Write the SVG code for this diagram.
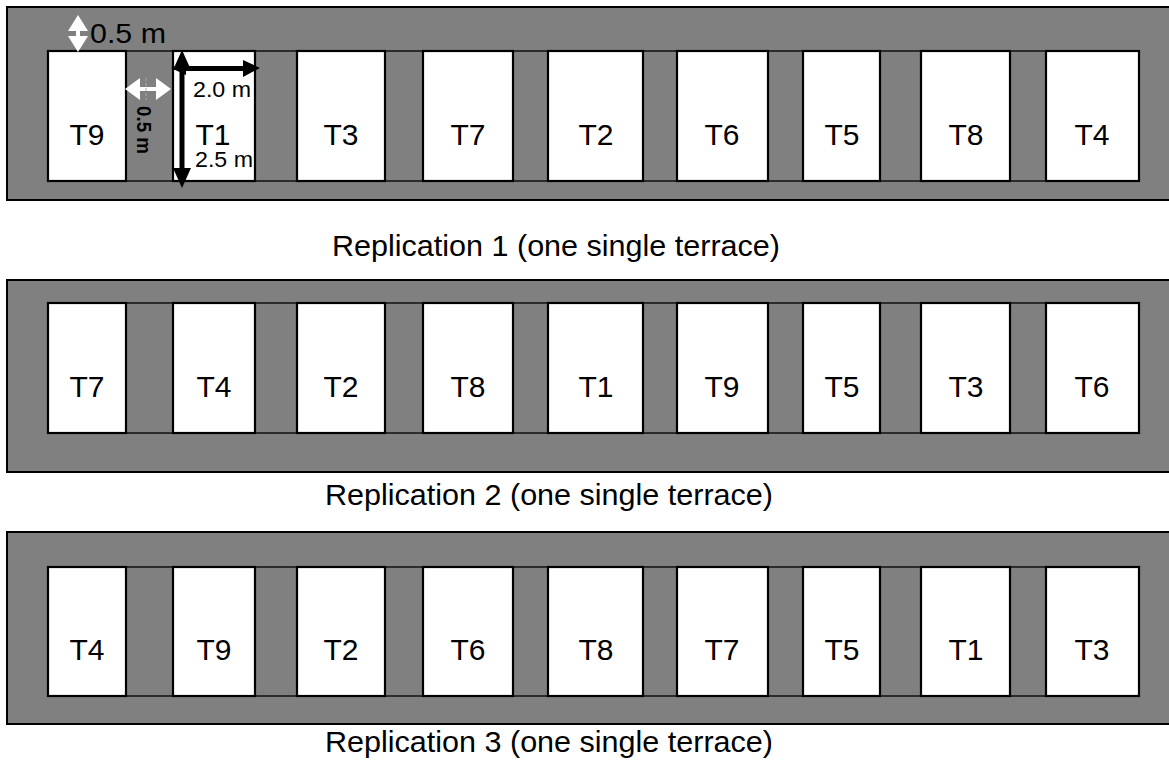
<svg xmlns="http://www.w3.org/2000/svg" width="1169" height="769" viewBox="0 0 1169 769">
<style>
.terrace{fill:#808080;stroke:#000;stroke-width:2}
.gap{fill:#808080;stroke:#111;stroke-width:1.5}
.plot{fill:#fff;stroke:#000;stroke-width:2.2}
.lab{font-family:"Liberation Sans",Arial,sans-serif;font-size:30px;fill:#000;text-anchor:middle}
.cap{font-family:"Liberation Sans",Arial,sans-serif;font-size:30px;fill:#000;text-anchor:middle}
.dim{font-family:"Liberation Sans",Arial,sans-serif;font-size:22px;fill:#000}
</style>
<rect width="1169" height="769" fill="#fff"/>
<!-- Replication 1 -->
<g id="rep1">
<rect class="terrace" x="7" y="7" width="1170" height="193"/>
<rect class="gap" x="126" y="51" width="47" height="130"/>
<rect class="gap" x="255" y="51" width="42" height="130"/>
<rect class="gap" x="385" y="51" width="38" height="130"/>
<rect class="gap" x="513" y="51" width="35" height="130"/>
<rect class="gap" x="643" y="51" width="34" height="130"/>
<rect class="gap" x="768" y="51" width="35" height="130"/>
<rect class="gap" x="880" y="51" width="41" height="130"/>
<rect class="gap" x="1010" y="51" width="36" height="130"/>
<g id="r1-T9"><rect class="plot" x="48" y="51" width="78" height="130"/><text class="lab" x="87" y="145">T9</text></g>
<g id="r1-T1"><rect class="plot" x="173" y="51" width="82" height="130"/><text class="lab" x="213" y="145">T1</text></g>
<g id="r1-T3"><rect class="plot" x="297" y="51" width="88" height="130"/><text class="lab" x="341" y="145">T3</text></g>
<g id="r1-T7"><rect class="plot" x="423" y="51" width="90" height="130"/><text class="lab" x="468" y="145">T7</text></g>
<g id="r1-T2"><rect class="plot" x="548" y="51" width="95" height="130"/><text class="lab" x="596" y="145">T2</text></g>
<g id="r1-T6"><rect class="plot" x="677" y="51" width="91" height="130"/><text class="lab" x="722" y="145">T6</text></g>
<g id="r1-T5"><rect class="plot" x="803" y="51" width="77" height="130"/><text class="lab" x="842" y="145">T5</text></g>
<g id="r1-T8"><rect class="plot" x="921" y="51" width="89" height="130"/><text class="lab" x="966" y="145">T8</text></g>
<g id="r1-T4"><rect class="plot" x="1046" y="51" width="93" height="130"/><text class="lab" x="1092" y="145">T4</text></g>
<text class="cap" x="556" y="256" textLength="448" lengthAdjust="spacingAndGlyphs">Replication 1 (one single terrace)</text>
</g>
<!-- Replication 2 -->
<g id="rep2">
<rect class="terrace" x="7" y="280" width="1170" height="192"/>
<rect class="gap" x="126" y="303" width="47" height="130"/>
<rect class="gap" x="255" y="303" width="42" height="130"/>
<rect class="gap" x="385" y="303" width="38" height="130"/>
<rect class="gap" x="513" y="303" width="35" height="130"/>
<rect class="gap" x="643" y="303" width="34" height="130"/>
<rect class="gap" x="768" y="303" width="35" height="130"/>
<rect class="gap" x="880" y="303" width="41" height="130"/>
<rect class="gap" x="1010" y="303" width="36" height="130"/>
<g id="r2-T7"><rect class="plot" x="48" y="303" width="78" height="130"/><text class="lab" x="87" y="397">T7</text></g>
<g id="r2-T4"><rect class="plot" x="173" y="303" width="82" height="130"/><text class="lab" x="214" y="397">T4</text></g>
<g id="r2-T2"><rect class="plot" x="297" y="303" width="88" height="130"/><text class="lab" x="341" y="397">T2</text></g>
<g id="r2-T8"><rect class="plot" x="423" y="303" width="90" height="130"/><text class="lab" x="468" y="397">T8</text></g>
<g id="r2-T1"><rect class="plot" x="548" y="303" width="95" height="130"/><text class="lab" x="596" y="397">T1</text></g>
<g id="r2-T9"><rect class="plot" x="677" y="303" width="91" height="130"/><text class="lab" x="722" y="397">T9</text></g>
<g id="r2-T5"><rect class="plot" x="803" y="303" width="77" height="130"/><text class="lab" x="842" y="397">T5</text></g>
<g id="r2-T3"><rect class="plot" x="921" y="303" width="89" height="130"/><text class="lab" x="966" y="397">T3</text></g>
<g id="r2-T6"><rect class="plot" x="1046" y="303" width="93" height="130"/><text class="lab" x="1092" y="397">T6</text></g>
<text class="cap" x="549" y="505" textLength="448" lengthAdjust="spacingAndGlyphs">Replication 2 (one single terrace)</text>
</g>
<!-- Replication 3 -->
<g id="rep3">
<rect class="terrace" x="7" y="532" width="1170" height="192"/>
<rect class="gap" x="126" y="567" width="47" height="129"/>
<rect class="gap" x="255" y="567" width="42" height="129"/>
<rect class="gap" x="385" y="567" width="38" height="129"/>
<rect class="gap" x="513" y="567" width="35" height="129"/>
<rect class="gap" x="643" y="567" width="34" height="129"/>
<rect class="gap" x="768" y="567" width="35" height="129"/>
<rect class="gap" x="880" y="567" width="41" height="129"/>
<rect class="gap" x="1010" y="567" width="36" height="129"/>
<g id="r3-T4"><rect class="plot" x="48" y="567" width="78" height="129"/><text class="lab" x="87" y="660">T4</text></g>
<g id="r3-T9"><rect class="plot" x="173" y="567" width="82" height="129"/><text class="lab" x="214" y="660">T9</text></g>
<g id="r3-T2"><rect class="plot" x="297" y="567" width="88" height="129"/><text class="lab" x="341" y="660">T2</text></g>
<g id="r3-T6"><rect class="plot" x="423" y="567" width="90" height="129"/><text class="lab" x="468" y="660">T6</text></g>
<g id="r3-T8"><rect class="plot" x="548" y="567" width="95" height="129"/><text class="lab" x="596" y="660">T8</text></g>
<g id="r3-T7"><rect class="plot" x="677" y="567" width="91" height="129"/><text class="lab" x="722" y="660">T7</text></g>
<g id="r3-T5"><rect class="plot" x="803" y="567" width="77" height="129"/><text class="lab" x="842" y="660">T5</text></g>
<g id="r3-T1"><rect class="plot" x="921" y="567" width="89" height="129"/><text class="lab" x="966" y="660">T1</text></g>
<g id="r3-T3"><rect class="plot" x="1046" y="567" width="93" height="129"/><text class="lab" x="1092" y="660">T3</text></g>
<text class="cap" x="549" y="752" textLength="448" lengthAdjust="spacingAndGlyphs">Replication 3 (one single terrace)</text>
</g>
<!-- dimension connectors -->
<g id="connectors">
<path fill="#fff" d="M78,15 L88,31 L80,31 L80,36 L88,36 L78,52 L68,36 L76,36 L76,31 L68,31 Z"/>
<path fill="#fff" d="M125,89 L140,78 L140,87 L156,87 L156,78 L171,89 L156,100 L156,91 L140,91 L140,100 Z"/>
<line x1="146" y1="78" x2="146" y2="100" stroke="#aaa" stroke-width="1" stroke-dasharray="3,2"/>
<path fill="#000" d="M171,68 L186,61 L186,66 L243,66 L243,60 L260,68 L243,77 L243,71 L186,71 L186,75 Z"/>
<path fill="#000" d="M182,50 L191,70 L184.5,70 L184.5,168 L191,168 L182,188 L173,168 L179.5,168 L179.5,70 L173,70 Z"/>
</g>
<g id="dim-labels">
<text class="dim" x="90" y="43" style="font-size:27px" textLength="76" lengthAdjust="spacingAndGlyphs">0.5 m</text>
<text class="dim" x="193" y="97" textLength="58" lengthAdjust="spacingAndGlyphs">2.0 m</text>
<text class="dim" x="195" y="167" textLength="58" lengthAdjust="spacingAndGlyphs">2.5 m</text>
<text class="dim" transform="translate(137,130) rotate(90)" style="font-size:20px;font-weight:bold;text-anchor:middle" textLength="48" lengthAdjust="spacingAndGlyphs">0.5 m</text>
</g>
</svg>
